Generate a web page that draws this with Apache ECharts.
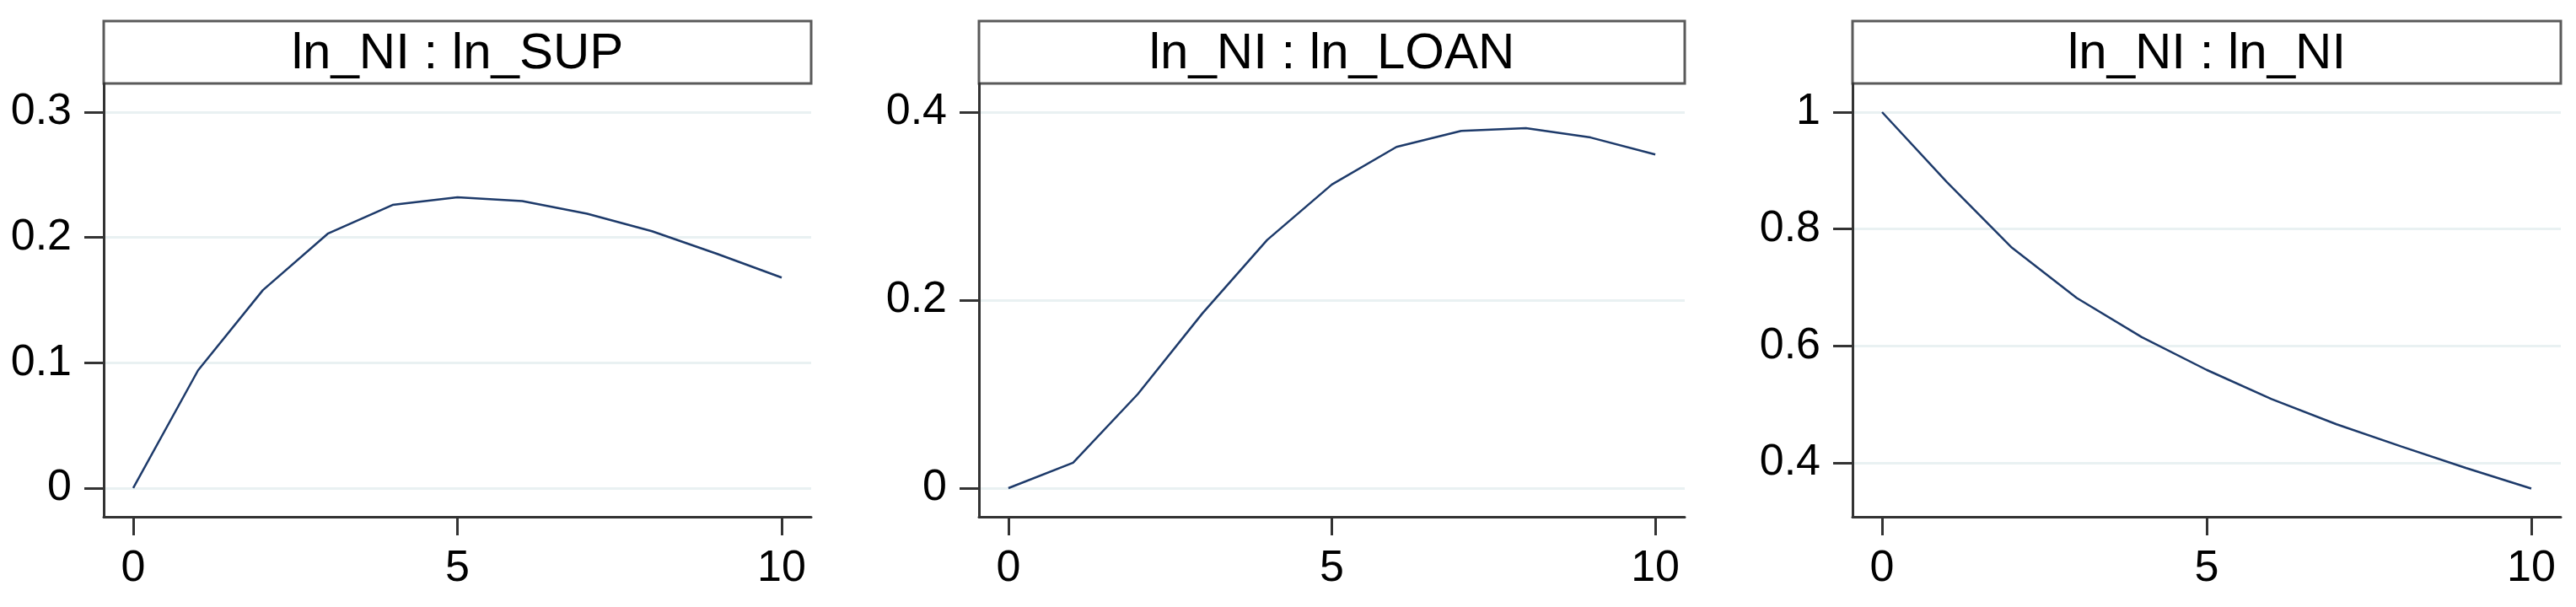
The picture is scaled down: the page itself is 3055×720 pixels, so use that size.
<!DOCTYPE html>
<html>
<head>
<meta charset="utf-8">
<script src="https://cdn.jsdelivr.net/npm/echarts@6/dist/echarts.min.js"></script>
<style>
  html, body { margin: 0; padding: 0; background: #fff; }
  #irf { width: 3055px; height: 720px; }
</style>
</head>
<body>
<div id="irf"></div>
<script>
// impulse response steps
var steps = [0, 1, 2, 3, 4, 5, 6, 7, 8, 9, 10];
var xTicks = [0, 5, 10];

// response values
var supVals  = [0, 0.094, 0.158, 0.203, 0.226, 0.232, 0.229, 0.219, 0.205, 0.187, 0.168];
var loanVals = [0, 0.027, 0.100, 0.186, 0.264, 0.323, 0.363, 0.380, 0.383, 0.373, 0.355];
var niVals   = [1, 0.880, 0.768, 0.682, 0.615, 0.559, 0.509, 0.466, 0.428, 0.391, 0.356];

var panelTitles = ["ln_NI : ln_SUP", "ln_NI : ln_LOAN", "ln_NI : ln_NI"];
var yTicks = [[0, 0.1, 0.2, 0.3], [0, 0.2, 0.4], [0.4, 0.6, 0.8, 1]];
var yRange = [[-0.0229, 0.3229], [-0.0305, 0.4305], [0.3077, 1.049]];

var FONT = "'Liberation Sans', Arial, sans-serif";
var AXIS = "#333333";

// panel geometry (px)
var panels = [
  { left: 123, width: 839 },
  { left: 1161, width: 837 },
  { left: 2197, width: 840 }
];
var plotTop = 99, plotH = 514, boxTop = 25;

var chart = echarts.init(document.getElementById("irf"));

var grids = [], xAxes = [], yAxes = [], series = [], graphics = [];
var allVals = [supVals, loanVals, niVals];

panels.forEach(function (p, i) {
  grids.push({ left: p.left, top: plotTop, width: p.width, height: plotH });

  xAxes.push({
    type: "value", gridIndex: i,
    min: -0.455, max: 10.455,
    axisLine: { show: true, onZero: false, lineStyle: { color: AXIS, width: 3 } },
    axisTick: { show: true, length: 22, customValues: xTicks, lineStyle: { color: AXIS, width: 3 } },
    axisLabel: { customValues: xTicks, margin: 36, fontSize: 52, color: "#000", fontFamily: FONT },
    splitLine: { show: false }
  });

  yAxes.push({
    type: "value", gridIndex: i,
    min: yRange[i][0], max: yRange[i][1],
    axisLine: { show: true, onZero: false, lineStyle: { color: AXIS, width: 3 } },
    axisTick: { show: true, length: 23, customValues: yTicks[i], lineStyle: { color: AXIS, width: 3 } },
    axisLabel: { customValues: yTicks[i], margin: 38, fontSize: 52, color: "#000", fontFamily: FONT },
    splitLine: { show: true, lineStyle: { color: "#e9f1f2", width: 3 } }
  });

  series.push({
    type: "line",
    xAxisIndex: i, yAxisIndex: i,
    data: steps.map(function (s, k) { return [s, allVals[i][k]]; }),
    showSymbol: false,
    clip: false,
    lineStyle: { color: "#1d3a6a", width: 2.5 }
  });

  // header box with panel title
  graphics.push({
    type: "rect",
    shape: { x: p.left, y: boxTop, width: p.width, height: plotTop - boxTop },
    style: { fill: "#fff", stroke: "#5a5a5a", lineWidth: 3 }
  });
  graphics.push({
    type: "text",
    x: p.left + p.width / 2, y: 64,
    style: {
      text: panelTitles[i], fill: "#000",
      font: "60px " + FONT,
      align: "center", verticalAlign: "middle"
    }
  });
});

chart.setOption({
  animation: false,
  backgroundColor: "#fff",
  grid: grids,
  xAxis: xAxes,
  yAxis: yAxes,
  series: series,
  graphic: graphics
});
</script>
</body>
</html>
